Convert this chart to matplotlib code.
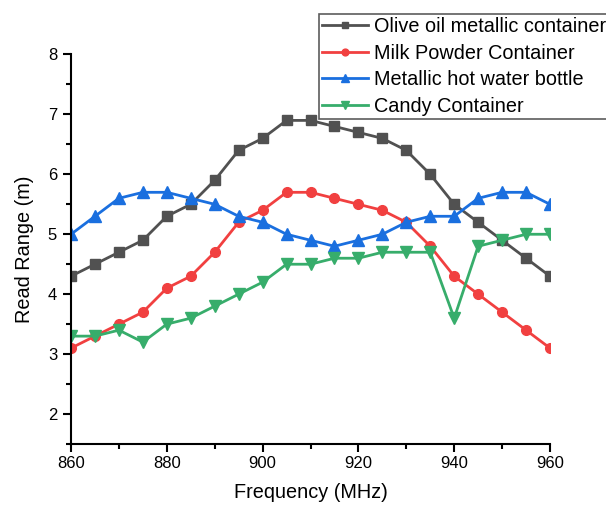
import numpy as np
import matplotlib.pyplot as plt
from matplotlib.ticker import MultipleLocator

plt.rcParams['font.family'] = ['Liberation Sans', 'DejaVu Sans']

# Data
freq = [860, 865, 870, 875, 880, 885, 890, 895, 900, 905, 910,
        915, 920, 925, 930, 935, 940, 945, 950, 955, 960]
olive = [4.3, 4.5, 4.7, 4.9, 5.3, 5.5, 5.9, 6.4, 6.6, 6.9, 6.9,
         6.8, 6.7, 6.6, 6.4, 6.0, 5.5, 5.2, 4.9, 4.6, 4.3]
milk = [3.1, 3.3, 3.5, 3.7, 4.1, 4.3, 4.7, 5.2, 5.4, 5.7, 5.7,
        5.6, 5.5, 5.4, 5.2, 4.8, 4.3, 4.0, 3.7, 3.4, 3.1]
bottle = [5.0, 5.3, 5.6, 5.7, 5.7, 5.6, 5.5, 5.3, 5.2, 5.0, 4.9,
          4.8, 4.9, 5.0, 5.2, 5.3, 5.3, 5.6, 5.7, 5.7, 5.5]
candy = [3.3, 3.3, 3.4, 3.2, 3.5, 3.6, 3.8, 4.0, 4.2, 4.5, 4.5,
         4.6, 4.6, 4.7, 4.7, 4.7, 3.6, 4.8, 4.9, 5.0, 5.0]

fig = plt.figure(figsize=(6.06, 5.05), dpi=100)
ax = fig.add_axes([71 / 606, 0.1208, 479 / 606, 0.7713])

ax.plot(freq, olive, '-s', color='#515151', lw=2, ms=7, label='Olive oil metallic container')
ax.plot(freq, milk, '-o', color='#F14040', lw=2, ms=7, label='Milk Powder Container')
ax.plot(freq, bottle, '-^', color='#1A6FDF', lw=2, ms=8, label='Metallic hot water bottle')
ax.plot(freq, candy, '-v', color='#37AD6B', lw=2, ms=8, label='Candy Container')

ax.set_xlim(860, 960)
ax.set_ylim(1.5, 8)
ax.xaxis.set_major_locator(MultipleLocator(20))
ax.xaxis.set_minor_locator(MultipleLocator(10))
ax.yaxis.set_major_locator(MultipleLocator(1))
ax.yaxis.set_minor_locator(MultipleLocator(0.5))
ax.set_yticks([2, 3, 4, 5, 6, 7, 8])

for s in ['top', 'right']:
    ax.spines[s].set_visible(False)
for s in ['left', 'bottom']:
    ax.spines[s].set_linewidth(1.5)
ax.tick_params(which='major', length=6, width=1.5, labelsize=12)
ax.tick_params(which='minor', length=3.5, width=1.5)
ax.tick_params(axis='x', which='major', pad=3)
ax.tick_params(axis='y', which='major', pad=4)

ax.set_xlabel('Frequency (MHz)', fontsize=14.3, labelpad=8)
ax.set_ylabel('Read Range (m)', fontsize=14.3, labelpad=10)

leg = ax.legend(loc='upper left', bbox_to_anchor=(319 / 606, 1 - 14 / 505),
                bbox_transform=fig.transFigure, fontsize=14.3, frameon=True,
                fancybox=False, edgecolor='#333333', handlelength=2.3,
                handletextpad=0.3, borderpad=0.15, labelspacing=0.38,
                borderaxespad=0, markerscale=0.7)
leg.get_frame().set_linewidth(1.2)

fig.savefig('out.png', dpi=100)
